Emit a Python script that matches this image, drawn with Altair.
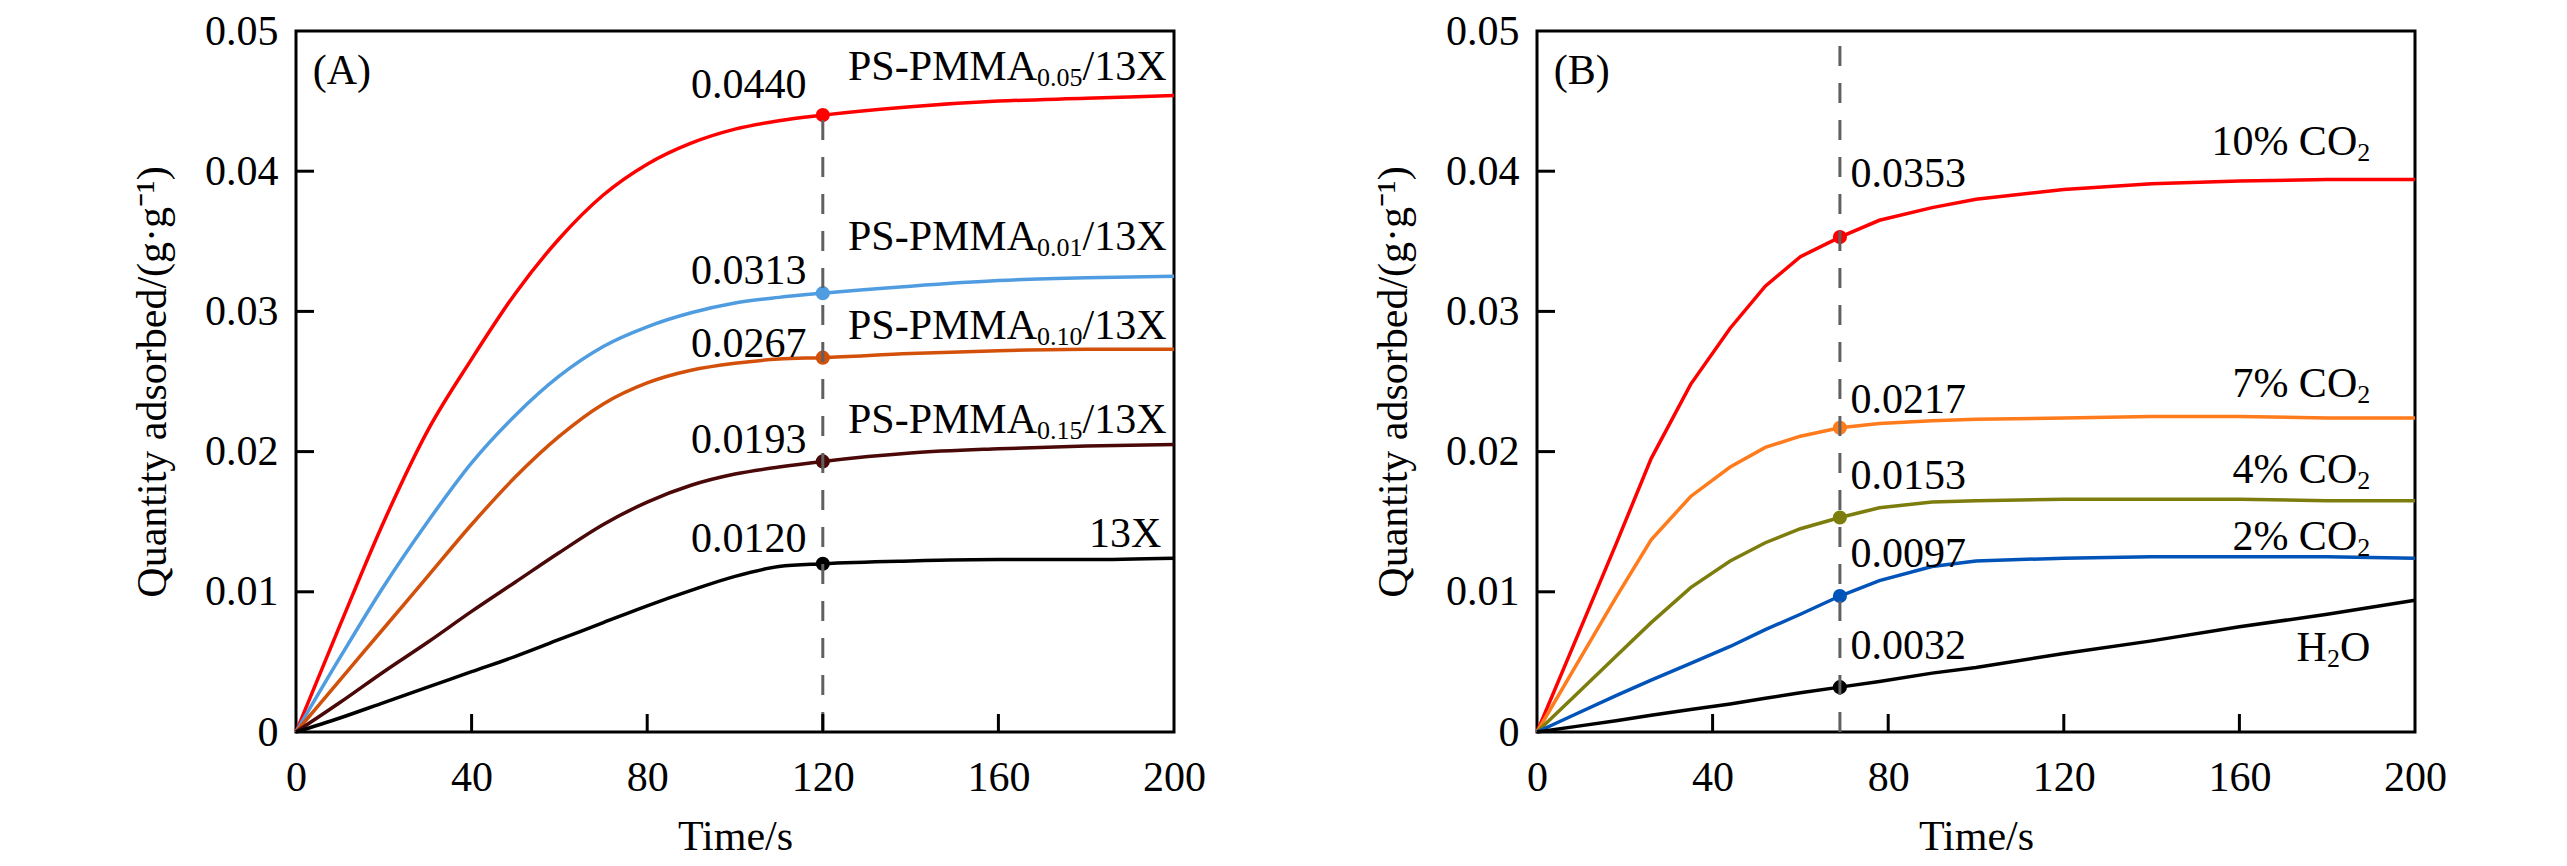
import altair as alt
import pandas as pd

FONT = "Liberation Serif"
FS = 42
SUB_FS = 26
W, H = 878, 701
TICK = 18
X_DOM = [0, 200]
Y_DOM = [0, 0.05]

# ---------------- Panel A data ----------------
tA = [0, 10, 20, 30, 40, 50, 60, 70, 80, 90, 100, 110, 120, 140, 160, 180, 200]
qA_005 = [0, 0.0076, 0.0150, 0.0215, 0.0266, 0.0313, 0.0352, 0.0383, 0.0405, 0.0420, 0.0430, 0.0436, 0.0440, 0.0446, 0.0450, 0.0452, 0.0454]
qA_001 = [0, 0.0053, 0.0104, 0.0150, 0.0192, 0.0226, 0.0254, 0.0275, 0.0289, 0.0299, 0.0306, 0.0310, 0.0313, 0.0318, 0.0322, 0.0324, 0.0325]
qA_010 = [0, 0.0037, 0.0074, 0.0111, 0.0148, 0.0182, 0.0211, 0.0234, 0.0249, 0.0258, 0.0263, 0.0266, 0.0267, 0.0270, 0.0272, 0.0273, 0.0273]
qA_015 = [0, 0.0021, 0.0043, 0.0064, 0.0086, 0.0107, 0.0128, 0.0148, 0.0164, 0.0176, 0.0184, 0.0189, 0.0193, 0.0199, 0.0202, 0.0204, 0.0205]
qA_13X = [0, 0.0010, 0.0021, 0.0032, 0.0043, 0.0054, 0.0066, 0.0078, 0.0090, 0.0101, 0.0111, 0.0118, 0.0120, 0.0122, 0.0123, 0.0123, 0.0124]
namesA = ["PS-PMMA0.05/13X", "PS-PMMA0.01/13X", "PS-PMMA0.10/13X", "PS-PMMA0.15/13X", "13X"]
colorsA = ["#FF0000", "#4F9DE0", "#D2500A", "#4A0808", "#000000"]
markA_t = 120
markA_q = [0.0440, 0.0313, 0.0267, 0.0193, 0.0120]
markA_txt = ["0.0440", "0.0313", "0.0267", "0.0193", "0.0120"]
dashA_top = 0.0440
valA_x = 116.3
valA_y = [0.04522, 0.03198, 0.02673, 0.01987, 0.01285]
labA_x = [198.3, 198.3, 198.3, 198.3, 197.1]
labA_y = [0.04649, 0.03438, 0.02806, 0.02130, 0.01317]
labA_main = ["PS-PMMA", "PS-PMMA", "PS-PMMA", "PS-PMMA", "13X"]
labA_sub = ["0.05", "0.01", "0.10", "0.15", ""]
labA_suf = ["/13X", "/13X", "/13X", "/13X", ""]

# ---------------- Panel B data ----------------
tB = [0, 9, 18, 26, 35, 44, 52, 60, 69, 78, 90, 100, 120, 140, 160, 180, 200]
qB_10 = [0, 0.0067, 0.0134, 0.0195, 0.0248, 0.0288, 0.0318, 0.0339, 0.0353, 0.0365, 0.0374, 0.0380, 0.0387, 0.0391, 0.0393, 0.0394, 0.0394]
qB_7 = [0, 0.0048, 0.0096, 0.0137, 0.0168, 0.0189, 0.0203, 0.0211, 0.0217, 0.0220, 0.0222, 0.0223, 0.0224, 0.0225, 0.0225, 0.0224, 0.0224]
qB_4 = [0, 0.0027, 0.0054, 0.0078, 0.0103, 0.0122, 0.0135, 0.0145, 0.0153, 0.0160, 0.0164, 0.0165, 0.0166, 0.0166, 0.0166, 0.0165, 0.0165]
qB_2 = [0, 0.0013, 0.0026, 0.0037, 0.0049, 0.0061, 0.0073, 0.0084, 0.0097, 0.0108, 0.0118, 0.0122, 0.0124, 0.0125, 0.0125, 0.0125, 0.0124]
qB_H2O = [0, 0.0004, 0.0008, 0.0012, 0.0016, 0.0020, 0.0024, 0.0028, 0.0032, 0.0036, 0.0042, 0.0046, 0.0056, 0.0065, 0.0075, 0.0084, 0.0094]
namesB = ["10% CO2", "7% CO2", "4% CO2", "2% CO2", "H2O"]
colorsB = ["#FF0000", "#FF7B1C", "#7D7D0E", "#0053B8", "#000000"]
markB_t = 69
markB_q = [0.0353, 0.0217, 0.0153, 0.0097, 0.0032]
markB_txt = ["0.0353", "0.0217", "0.0153", "0.0097", "0.0032"]
dashB_top = 0.05
valB_x = 71.4
valB_y = [0.03884, 0.02273, 0.01732, 0.01180, 0.00520]
labB_x = [189.8, 189.8, 189.8, 189.8, 189.8]
labB_y = [0.04114, 0.02392, 0.01773, 0.01295, 0.00504]
labB_main = ["10% CO", "7% CO", "4% CO", "2% CO", "H"]
labB_sub = ["2", "2", "2", "2", "2"]
labB_suf = ["", "", "", "", "O"]

x_ticks = [0, 40, 80, 120, 160, 200]
y_ticks = [0, 0.01, 0.02, 0.03, 0.04, 0.05]

# Times-metric advance widths (em), used only to butt subscripts to text
EM = {"0": .5, "1": .5, "2": .5, "3": .5, "4": .5, "5": .5, "6": .5, "7": .5, "8": .5, "9": .5,
      ".": .25, "/": .278, "X": .722, "O": .722, "H": .722, "C": .667, "%": .833, " ": .25,
      "P": .556, "S": .556, "-": .333, "M": .889, "A": .722}


def tw(s, size):
    return sum(EM.get(c, 0.5) for c in s) * size


def txt(df, **kw):
    base = dict(font=FONT, fontSize=FS, color="black", baseline="alphabetic")
    base.update(kw)
    return alt.Chart(df).mark_text(**base).encode(x="t:Q", y="q:Q", text="label:N")


def panel(t, series, names, colors, interp, mark_t, mark_q, mark_txt, dash_top,
          val_x, val_y, val_align, lab_x, lab_y, lab_main, lab_sub, lab_suf, letter):
    rows = [{"t": tt, "q": qq, "s": n} for n, qs in zip(names, series) for tt, qq in zip(t, qs)]
    df = pd.DataFrame(rows)
    cscale = alt.Scale(domain=names, range=colors)
    x_enc = alt.X("t:Q", scale=alt.Scale(domain=X_DOM, nice=False),
                  axis=alt.Axis(values=x_ticks, ticks=False, tickSize=0, domain=False, grid=False,
                                labelFlush=False, labelFont=FONT, labelFontSize=FS, labelColor="black",
                                labelPadding=25, title="Time/s", titleFont=FONT, titleFontSize=FS,
                                titleFontWeight="normal", titleColor="black", titlePadding=18))
    y_enc = alt.Y("q:Q", scale=alt.Scale(domain=Y_DOM, nice=False),
                  axis=alt.Axis(values=y_ticks, ticks=False, tickSize=0, domain=False, grid=False,
                                labelExpr="datum.value == 0 ? '0' : format(datum.value, '.2f')",
                                labelFont=FONT, labelFontSize=FS, labelColor="black", labelPadding=18,
                                title="Quantity adsorbed/(g·g⁻¹)", titleFont=FONT, titleFontSize=FS,
                                titleFontWeight="normal", titleColor="black", titlePadding=30))
    lines = alt.Chart(df).mark_line(strokeWidth=3.5, interpolate=interp).encode(
        x=x_enc, y=y_enc, color=alt.Color("s:N", scale=cscale, legend=None))
    pdf = pd.DataFrame({"t": [mark_t] * len(names), "q": mark_q, "s": names})
    pts = alt.Chart(pdf).mark_circle(size=200, opacity=1).encode(
        x="t:Q", y="q:Q", color=alt.Color("s:N", scale=cscale, legend=None))
    ddf = pd.DataFrame({"t": [mark_t], "q": [0.0], "q2": [dash_top]})
    dash = alt.Chart(ddf).mark_rule(strokeDash=[20, 17], strokeWidth=3, color="#606060").encode(
        x="t:Q", y="q:Q", y2="q2:Q")
    vdf = pd.DataFrame({"t": [val_x] * len(mark_txt), "q": val_y, "label": mark_txt})
    vals = txt(vdf, align=val_align)
    layers = [lines, pts, dash, vals]
    for lx, ly, m, sb, sf in zip(lab_x, lab_y, lab_main, lab_sub, lab_suf):
        w_suf = tw(sf, FS)
        w_sub = tw(sb, SUB_FS)
        if sf:
            layers.append(txt(pd.DataFrame({"t": [lx], "q": [ly], "label": [sf]}), align="right"))
        if sb:
            layers.append(txt(pd.DataFrame({"t": [lx], "q": [ly], "label": [sb]}), align="right",
                              fontSize=SUB_FS, dx=-w_suf, dy=6))
        layers.append(txt(pd.DataFrame({"t": [lx], "q": [ly], "label": [m]}), align="right",
                          dx=-(w_suf + w_sub)))
    layers.append(txt(pd.DataFrame({"t": [3.8], "q": [0.0462], "label": [letter]}), align="left"))
    # inward ticks on bottom and left edges (length TICK px, converted to data units)
    ty = TICK / H * (Y_DOM[1] - Y_DOM[0])
    tx = TICK / W * (X_DOM[1] - X_DOM[0])
    xtd = pd.DataFrame({"t": x_ticks[1:-1], "q": [Y_DOM[0]] * 4, "q2": [Y_DOM[0] + ty] * 4})
    ytd = pd.DataFrame({"q": y_ticks[1:-1], "t": [X_DOM[0]] * 4, "t2": [X_DOM[0] + tx] * 4})
    xt = alt.Chart(xtd).mark_rule(strokeWidth=3, color="black").encode(x="t:Q", y="q:Q", y2="q2:Q")
    yt = alt.Chart(ytd).mark_rule(strokeWidth=3, color="black").encode(y="q:Q", x="t:Q", x2="t2:Q")
    layers += [xt, yt]
    return alt.layer(*layers).properties(width=W, height=H)


pA = panel(tA, [qA_005, qA_001, qA_010, qA_015, qA_13X], namesA, colorsA, "monotone",
           markA_t, markA_q, markA_txt, dashA_top, valA_x, valA_y, "right",
           labA_x, labA_y, labA_main, labA_sub, labA_suf, "(A)")
pB = panel(tB, [qB_10, qB_7, qB_4, qB_2, qB_H2O], namesB, colorsB, "linear",
           markB_t, markB_q, markB_txt, dashB_top, valB_x, valB_y, "left",
           labB_x, labB_y, labB_main, labB_sub, labB_suf, "(B)")

chart = alt.hconcat(pA, pB, spacing=164).resolve_scale(color="independent").properties(
    padding={"left": 122, "top": 0, "right": 10, "bottom": 10},
    background="white",
).configure_view(stroke="black", strokeWidth=3)

chart.save("out.html", embed_options={"renderer": "svg", "actions": False})
